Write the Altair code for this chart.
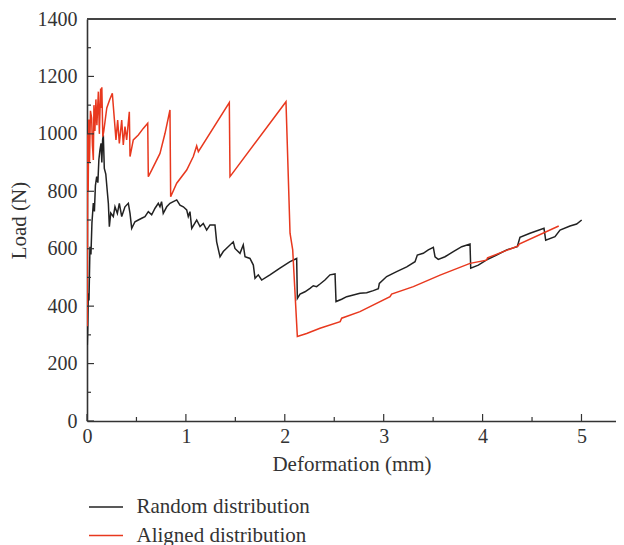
import altair as alt
import pandas as pd

# ---------------- data ----------------
random_x = [0.003, 0.008, 0.013, 0.02, 0.03, 0.04, 0.05, 0.064, 0.075, 0.085, 0.098, 0.11, 0.12,
            0.131, 0.142, 0.15, 0.158, 0.165, 0.175, 0.19, 0.205, 0.216, 0.226, 0.24,
            0.266, 0.283, 0.307, 0.327, 0.351, 0.384, 0.418, 0.435, 0.452, 0.485, 0.519,
            0.553, 0.586, 0.62, 0.654, 0.688, 0.721, 0.738, 0.754, 0.771, 0.806, 0.839,
            0.873, 0.907, 0.94, 0.974, 1.008, 1.024, 1.041, 1.059, 1.109, 1.143, 1.176,
            1.21, 1.244, 1.294, 1.311, 1.345, 1.378, 1.479, 1.496, 1.547, 1.58, 1.598,
            1.648, 1.682, 1.699, 1.732, 1.766, 1.85, 1.951, 2.053, 2.12, 2.127, 2.154,
            2.204, 2.255, 2.288, 2.322, 2.356, 2.406, 2.457, 2.508, 2.518, 2.575, 2.626,
            2.693, 2.76, 2.828, 2.895, 2.946, 2.956, 3.03, 3.131, 3.233, 3.317, 3.34,
            3.4, 3.451, 3.502, 3.519, 3.552, 3.62, 3.704, 3.789, 3.873, 3.88, 3.957,
            4.041, 4.142, 4.244, 4.351, 4.378, 4.479, 4.621, 4.638, 4.732, 4.783, 4.884,
            4.951, 5.002]
random_y = [265, 330, 445, 420, 607, 580, 690, 759, 730, 820, 851, 830, 910,
            944, 967, 900, 979, 995, 880, 860, 800, 758, 677, 724,
            712, 746, 723, 758, 712, 746, 758, 723, 671, 694, 700,
            706, 712, 729, 718, 741, 758, 746, 764, 723, 746, 758,
            764, 770, 752, 746, 735, 712, 729, 671, 700, 677, 688,
            665, 683, 683, 624, 572, 590, 624, 601, 584, 613, 572,
            566, 543, 497, 509, 491, 509, 532, 555, 566, 427, 442,
            450, 462, 471, 468, 477, 491, 509, 512, 416, 424, 433,
            439, 445, 447, 454, 461, 479, 503, 520, 537, 555, 578,
            584, 596, 605, 572, 563, 572, 590, 607, 616, 532, 543,
            561, 578, 596, 607, 640, 654, 671, 630, 642, 665, 679,
            686, 700]

aligned_x = [0.002, 0.005, 0.008, 0.012, 0.018, 0.025, 0.035, 0.047, 0.055, 0.064, 0.07,
             0.08, 0.09, 0.1, 0.115, 0.125, 0.138, 0.145, 0.15, 0.16, 0.17, 0.2, 0.23,
             0.256, 0.276, 0.293, 0.31, 0.327, 0.351, 0.367, 0.384, 0.401, 0.428, 0.435,
             0.468, 0.519, 0.569, 0.614, 0.62, 0.654, 0.738, 0.789, 0.839, 0.846, 0.907,
             1.008, 1.075, 1.109, 1.126, 1.439, 1.446, 2.012, 2.053, 2.08, 2.127, 2.221,
             2.356, 2.56, 2.575, 2.76, 3.064, 3.08, 3.3, 3.57, 3.873, 4.04, 4.05, 4.36,
             4.37, 4.77]
aligned_y = [330, 600, 1000, 800, 1050, 900, 1080, 1055, 960, 909, 1100,
             1010, 1120, 1030, 1147, 1000, 1158, 1090, 1162, 990, 1010, 1090, 1120,
             1141, 1054, 979, 1048, 967, 1048, 961, 1025, 979, 1077, 921,
             979, 996, 1019, 1037, 851, 874, 932, 1002, 1083, 781, 828,
             874, 921, 958, 938, 1109, 851, 1112, 654, 596, 294, 305,
             323, 346, 358, 381, 433, 442, 468, 508, 549, 560, 568, 610,
             616, 679]

series_names = ["Random distribution", "Aligned distribution"]
series_colors = ["#222222", "#e8381e"]

x_major = [0, 1, 2, 3, 4, 5]
x_minor = [0.5, 1.5, 2.5, 3.5, 4.5]
y_major = [0, 200, 400, 600, 800, 1000, 1200, 1400]
y_minor = [100, 300, 500, 700, 900, 1100, 1300]

# ---------------- tables ----------------
rows = []
for i, (x, y) in enumerate(zip(random_x, random_y)):
    rows.append({"series": series_names[0], "x": x, "y": y, "i": i})
for i, (x, y) in enumerate(zip(aligned_x, aligned_y)):
    rows.append({"series": series_names[1], "x": x, "y": y, "i": i})
df = pd.DataFrame(rows)

W, H = 529, 402
FONT = "Liberation Serif"
AX = "#333333"

xs = alt.Scale(domain=[0, 5.349], nice=False, zero=False)
ys = alt.Scale(domain=[0, 1400], nice=False)

lines = alt.Chart(df).mark_line(strokeWidth=1.5, clip=True).encode(
    x=alt.X("x:Q", scale=xs,
            axis=alt.Axis(title="Deformation (mm)", values=x_major, ticks=False, grid=False,
                          labelPadding=5, titlePadding=7, format="d", labelFlush=False)),
    y=alt.Y("y:Q", scale=ys,
            axis=alt.Axis(title="Load (N)", values=y_major, ticks=False, grid=False,
                          labelPadding=10, titlePadding=8, format="d", labelFlush=False)),
    color=alt.Color("series:N",
                    scale=alt.Scale(domain=series_names, range=series_colors),
                    legend=alt.Legend(title=None, orient="none", legendX=8.5, legendY=477.5,
                                      symbolType="M-2,0H2", symbolSize=289,
                                      symbolStrokeWidth=1.3, labelOffset=20, labelLimit=0,
                                      labelFont=FONT, labelFontSize=21, labelColor=AX,
                                      rowPadding=6.5, padding=0)),
    order="i:Q",
)

xticks_major = alt.Chart(pd.DataFrame({"v": x_major})).mark_rule(color=AX, strokeWidth=1.2).encode(
    x=alt.X("v:Q", scale=xs), y=alt.value(H), y2=alt.value(H - 7))
xticks_minor = alt.Chart(pd.DataFrame({"v": x_minor})).mark_rule(color=AX, strokeWidth=1.2).encode(
    x=alt.X("v:Q", scale=xs), y=alt.value(H), y2=alt.value(H - 4))
yticks_major = alt.Chart(pd.DataFrame({"v": y_major})).mark_rule(color=AX, strokeWidth=1.2).encode(
    y=alt.Y("v:Q", scale=ys), x=alt.value(0), x2=alt.value(7))
yticks_minor = alt.Chart(pd.DataFrame({"v": y_minor})).mark_rule(color=AX, strokeWidth=1.2).encode(
    y=alt.Y("v:Q", scale=ys), x=alt.value(0), x2=alt.value(4))
top_border = alt.Chart(pd.DataFrame({"v": [1400]})).mark_rule(color="#444444", strokeWidth=1.8).encode(
    y=alt.Y("v:Q", scale=ys), x=alt.value(0), x2=alt.value(W))

chart = alt.layer(lines, xticks_major, xticks_minor, yticks_major, yticks_minor, top_border).properties(
    width=W, height=H,
    autosize=alt.AutoSizeParams(type="none"),
    padding={"left": 79, "top": 11, "right": 0, "bottom": 126},
    background="white",
).configure_view(stroke=None).configure_axis(
    domainColor=AX, domainWidth=1.6,
    labelFont=FONT, labelFontSize=20, labelColor=AX,
    titleFont=FONT, titleFontSize=21, titleFontWeight="normal", titleColor=AX,
)

chart.save("out.html", embed_options={"renderer": "svg", "actions": False})
